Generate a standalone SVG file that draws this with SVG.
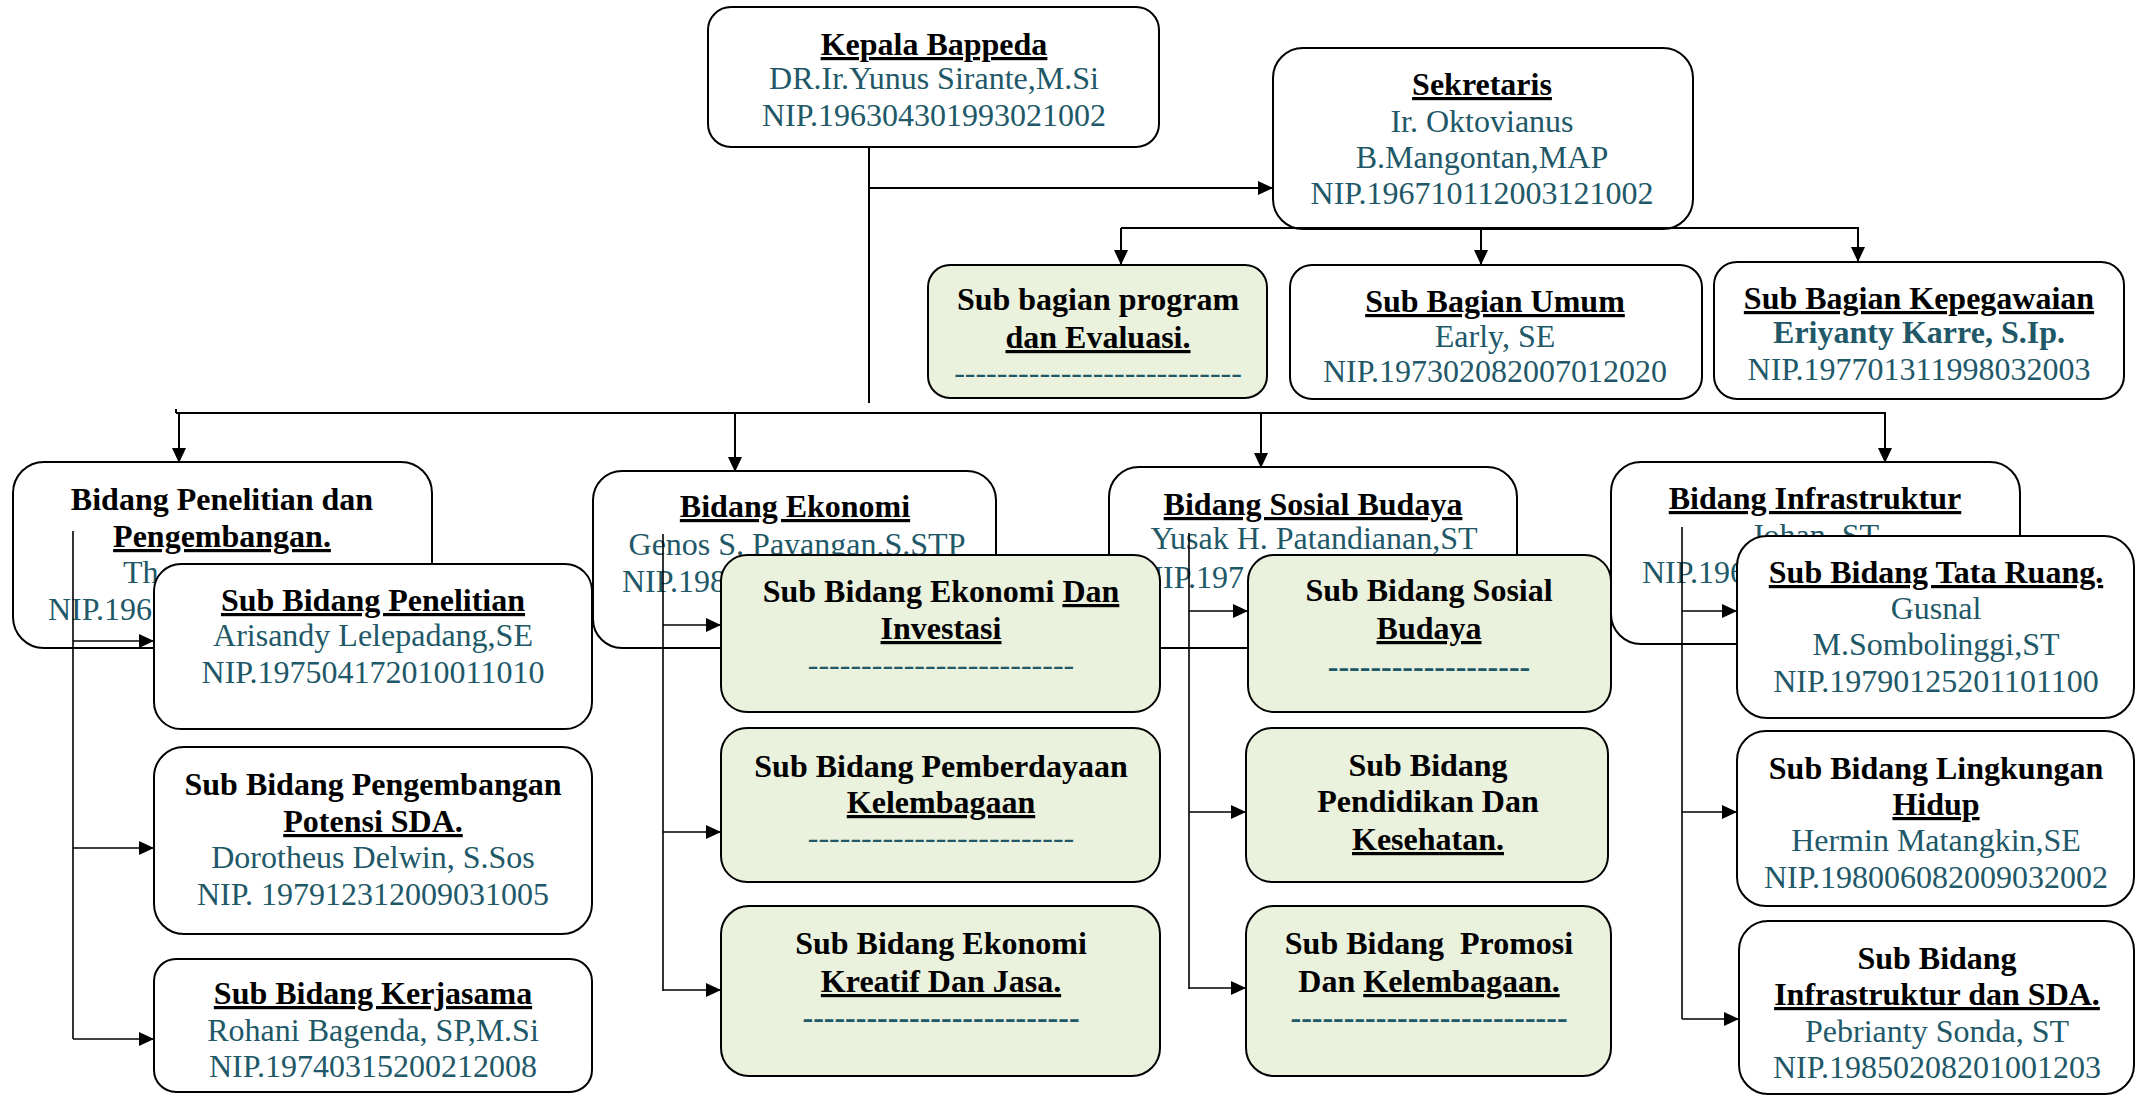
<svg xmlns="http://www.w3.org/2000/svg" width="2136" height="1096" viewBox="0 0 2136 1096">
<defs>
<marker id="ah" markerWidth="15" markerHeight="14" refX="15" refY="7" orient="auto" markerUnits="userSpaceOnUse"><path d="M0,0 L15,7 L0,14 z" fill="#000"/></marker>
<style>
.box{fill:#fff;stroke:#000;stroke-width:2}
.grn{fill:#EAF1DD;stroke:#000;stroke-width:2}
text{font-family:"Liberation Serif","Times New Roman",serif;font-size:32px}
.t{font-weight:bold;fill:#000;text-anchor:middle}
.u{text-decoration:underline}
.n{fill:#215868;text-anchor:middle}
.s{fill:#215868}
.d{fill:#215868;text-anchor:middle}
.db{fill:#215868;text-anchor:middle;font-weight:bold}
.ln{stroke:#000;stroke-width:2;fill:none}
.ar{stroke:#000;stroke-width:2;fill:none;marker-end:url(#ah)}
.li{stroke:#000;stroke-width:1.6;fill:none}
.ai{stroke:#000;stroke-width:1.6;fill:none;marker-end:url(#ah)}
</style>
</defs>
<rect width="2136" height="1096" fill="#fff"/>

<g id="kepala">
<rect class="box" x="708" y="7" width="451" height="140" rx="23"/>
<text class="t u" x="934" y="55">Kepala Bappeda</text>
<text class="n" x="934" y="89">DR.Ir.Yunus Sirante,M.Si</text>
<text class="n" x="934" y="126">NIP.196304301993021002</text>
</g>

<g id="sekretaris">
<rect class="box" x="1273" y="48" width="420" height="181" rx="30"/>
<text class="t u" x="1482" y="95">Sekretaris</text>
<text class="n" x="1482" y="132">Ir. Oktovianus</text>
<text class="n" x="1482" y="168">B.Mangontan,MAP</text>
<text class="n" x="1482" y="204">NIP.196710112003121002</text>
</g>

<g id="sub-bagian-program">
<rect class="grn" x="928" y="265" width="339" height="133" rx="22"/>
<text class="t" x="1098" y="310">Sub bagian program</text>
<text class="t u" x="1098" y="348">dan Evaluasi.</text>
<text class="d" x="1098" y="383">---------------------------</text>
</g>

<g id="sub-bagian-umum">
<rect class="box" x="1290" y="265" width="412" height="134" rx="22"/>
<text class="t u" x="1495" y="312">Sub Bagian Umum</text>
<text class="n" x="1495" y="347">Early, SE</text>
<text class="n" x="1495" y="382">NIP.197302082007012020</text>
</g>

<g id="sub-bagian-kepegawaian">
<rect class="box" x="1714" y="262" width="410" height="137" rx="23"/>
<text class="t u" x="1919" y="309">Sub Bagian Kepegawaian</text>
<text class="n" x="1919" y="343" font-weight="bold">Eriyanty Karre, S.Ip.</text>
<text class="n" x="1919" y="380">NIP.197701311998032003</text>
</g>

<g id="bidang-penelitian">
<rect class="box" x="13" y="462" width="419" height="186" rx="31"/>
<text class="t" x="222" y="510">Bidang Penelitian dan</text>
<text class="t u" x="222" y="547">Pengembangan.</text>
<text class="s" x="123" y="583">Th</text>
<text class="s" x="48" y="620">NIP.196</text>
</g>

<g id="bidang-ekonomi">
<rect class="box" x="593" y="471" width="403" height="177" rx="29"/>
<text class="t u" x="795" y="517">Bidang Ekonomi</text>
<text class="n" x="797" y="555">Genos S. Payangan,S.STP</text>
<text class="s" x="622" y="592">NIP.198</text>
</g>

<g id="bidang-sosial-budaya">
<rect class="box" x="1109" y="467" width="408" height="181" rx="30"/>
<text class="t u" x="1313" y="515">Bidang Sosial Budaya</text>
<text class="n" x="1314" y="549">Yusak H. Patandianan,ST</text>
<text class="s" x="1140" y="588">NIP.197</text>
</g>

<g id="bidang-infrastruktur">
<rect class="box" x="1611" y="462" width="409" height="182" rx="30"/>
<text class="t u" x="1815" y="509">Bidang Infrastruktur</text>
<text class="n" x="1815" y="546">Johan, ST</text>
<text class="s" x="1642" y="583">NIP.196</text>
</g>

<g id="connectors">
<path class="ln" d="M869,147 V403"/>
<path class="ar" d="M869,188 H1273"/>
<path class="ln" d="M1121,228 H1859"/>
<path class="ar" d="M1121,228 V265"/>
<path class="ar" d="M1481,229 V265"/>
<path class="ar" d="M1858,228 V262"/>
<path class="ln" d="M176,413 H1886"/>
<path class="ln" d="M176,409 V413"/>
<path class="ar" d="M179,413 V463"/>
<path class="ar" d="M735,413 V472"/>
<path class="ar" d="M1261,413 V468"/>
<path class="ar" d="M1885,413 V463"/>
<path class="li" d="M73,531 V1039"/>
<path class="ai" d="M73,641 H154"/>
<path class="ai" d="M73,848 H154"/>
<path class="ai" d="M73,1039 H154"/>
<path class="li" d="M663,534 V991"/>
<path class="ai" d="M663,625 H721"/>
<path class="ai" d="M663,832 H721"/>
<path class="ai" d="M663,990 H721"/>
<path class="li" d="M1189,533 V989"/>
<path class="ai" d="M1189,611 H1248"/>
<path class="ai" d="M1189,812 H1246"/>
<path class="ai" d="M1189,988 H1246"/>
<path class="li" d="M1682,527 V1019"/>
<path class="ai" d="M1682,611 H1737"/>
<path class="ai" d="M1682,812 H1737"/>
<path class="ai" d="M1682,1019 H1739"/>
</g>

<g id="sub-bidang-penelitian">
<rect class="box" x="154" y="564" width="438" height="165" rx="27"/>
<text class="t u" x="373" y="611">Sub Bidang Penelitian</text>
<text class="n" x="373" y="646">Arisandy Lelepadang,SE</text>
<text class="n" x="373" y="683">NIP.197504172010011010</text>
</g>

<g id="sub-bidang-pengembangan">
<rect class="box" x="154" y="747" width="438" height="187" rx="30"/>
<text class="t" x="373" y="795">Sub Bidang Pengembangan</text>
<text class="t u" x="373" y="832">Potensi SDA.</text>
<text class="n" x="373" y="868">Dorotheus Delwin, S.Sos</text>
<text class="n" x="373" y="905">NIP. 197912312009031005</text>
</g>

<g id="sub-bidang-kerjasama">
<rect class="box" x="154" y="959" width="438" height="133" rx="22"/>
<text class="t u" x="373" y="1004">Sub Bidang Kerjasama</text>
<text class="n" x="373" y="1041">Rohani Bagenda, SP,M.Si</text>
<text class="n" x="373" y="1077">NIP.19740315200212008</text>
</g>

<g id="sub-bidang-ekonomi-investasi">
<rect class="grn" x="721" y="555" width="439" height="157" rx="26"/>
<text class="t" x="941" y="602">Sub Bidang Ekonomi <tspan class="u">Dan</tspan></text>
<text class="t u" x="941" y="639">Investasi</text>
<text class="d" x="941" y="675">-------------------------</text>
</g>

<g id="sub-bidang-pemberdayaan">
<rect class="grn" x="721" y="728" width="439" height="154" rx="26"/>
<text class="t" x="941" y="777">Sub Bidang Pemberdayaan</text>
<text class="t u" x="941" y="813">Kelembagaan</text>
<text class="d" x="941" y="848">-------------------------</text>
</g>

<g id="sub-bidang-ekonomi-kreatif">
<rect class="grn" x="721" y="906" width="439" height="170" rx="28"/>
<text class="t" x="941" y="954">Sub Bidang Ekonomi</text>
<text class="t u" x="941" y="992">Kreatif Dan Jasa.</text>
<text class="db" x="941" y="1028">--------------------------</text>
</g>

<g id="sub-bidang-sosial-budaya">
<rect class="grn" x="1248" y="555" width="363" height="157" rx="26"/>
<text class="t" x="1429" y="601">Sub Bidang Sosial</text>
<text class="t u" x="1429" y="639">Budaya</text>
<text class="db" x="1429" y="677">-------------------</text>
</g>

<g id="sub-bidang-pendidikan">
<rect class="grn" x="1246" y="728" width="362" height="154" rx="26"/>
<text class="t" x="1428" y="776">Sub Bidang</text>
<text class="t" x="1428" y="812">Pendidikan Dan</text>
<text class="t u" x="1428" y="850">Kesehatan.</text>
</g>

<g id="sub-bidang-promosi">
<rect class="grn" x="1246" y="906" width="365" height="170" rx="28"/>
<text class="t" x="1429" y="954" xml:space="preserve">Sub Bidang  Promosi</text>
<text class="t" x="1429" y="992">Dan <tspan class="u">Kelembagaan.</tspan></text>
<text class="db" x="1429" y="1028">--------------------------</text>
</g>

<g id="sub-bidang-tata-ruang">
<rect class="box" x="1737" y="536" width="397" height="182" rx="30"/>
<text class="t u" x="1936" y="583">Sub Bidang Tata Ruang.</text>
<text class="n" x="1936" y="619">Gusnal</text>
<text class="n" x="1936" y="655">M.Sombolinggi,ST</text>
<text class="n" x="1936" y="692">NIP.19790125201101100</text>
</g>

<g id="sub-bidang-lingkungan-hidup">
<rect class="box" x="1737" y="731" width="397" height="175" rx="29"/>
<text class="t" x="1936" y="779">Sub Bidang Lingkungan</text>
<text class="t u" x="1936" y="815">Hidup</text>
<text class="n" x="1936" y="851">Hermin Matangkin,SE</text>
<text class="n" x="1936" y="888">NIP.198006082009032002</text>
</g>

<g id="sub-bidang-infrastruktur-sda">
<rect class="box" x="1739" y="921" width="395" height="173" rx="29"/>
<text class="t" x="1937" y="969">Sub Bidang</text>
<text class="t u" x="1937" y="1005">Infrastruktur dan SDA.</text>
<text class="n" x="1937" y="1042">Pebrianty Sonda, ST</text>
<text class="n" x="1937" y="1078">NIP.19850208201001203</text>
</g>
</svg>
